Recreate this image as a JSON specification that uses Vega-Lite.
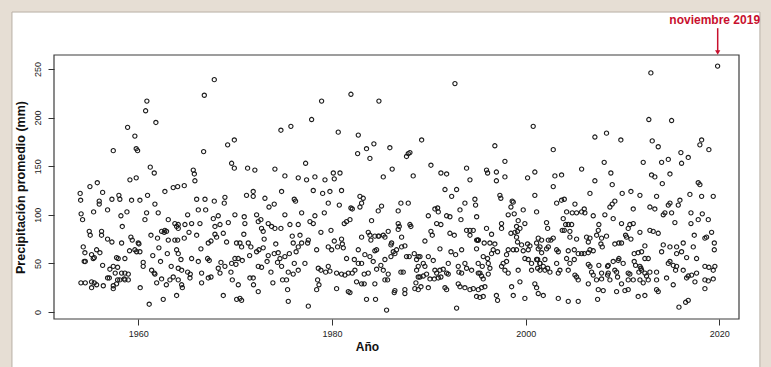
{
"$schema":"https://vega.github.io/schema/vega-lite/v6.json",
"width":685,"height":264,"autosize":"none",
"padding":{"left":54,"top":55,"right":32,"bottom":48},
"background":"#e6ded4",
"config":{"view":{"stroke":null},"axis":{"grid":false,"domain":false,"tickColor":"#333","tickSize":6,"tickWidth":1,"labelFont":"Liberation Sans","labelFontSize":9,"labelColor":"#222","titleFont":"Liberation Sans","titleFontWeight":"bold","titleColor":"#111"}},
"data":{"values":[
{"year":1954.0,"mm":122},{"year":1954.05,"mm":115},{"year":1954.1,"mm":101},{"year":1954.25,"mm":95},{"year":1954.32,"mm":67},{"year":1954.49,"mm":61},{"year":1954.53,"mm":52},{"year":1954.42,"mm":52},{"year":1954.08,"mm":30},{"year":1954.53,"mm":30},{"year":1954.94,"mm":83},{"year":1955.04,"mm":79},{"year":1955.01,"mm":129},{"year":1955.18,"mm":59},{"year":1955.18,"mm":31},{"year":1955.18,"mm":25},{"year":1955.46,"mm":56},{"year":1955.46,"mm":30},{"year":1955.35,"mm":55},{"year":1955.39,"mm":103},{"year":1955.77,"mm":133},{"year":1955.7,"mm":64},{"year":1955.7,"mm":28},{"year":1956.04,"mm":61},{"year":1955.97,"mm":114},{"year":1955.97,"mm":111},{"year":1956.32,"mm":123},{"year":1956.21,"mm":83},{"year":1956.21,"mm":79},{"year":1956.32,"mm":48},{"year":1956.39,"mm":27},{"year":1956.83,"mm":105},{"year":1956.83,"mm":75},{"year":1956.83,"mm":35},{"year":1957.01,"mm":35},{"year":1957.07,"mm":44},{"year":1957.42,"mm":166},{"year":1957.28,"mm":116},{"year":1957.28,"mm":72},{"year":1957.42,"mm":47},{"year":1957.42,"mm":24},{"year":1957.42,"mm":27},{"year":1957.62,"mm":40},
{"year":1960.89,"mm":217},{"year":1960.76,"mm":207},{"year":1961.82,"mm":195},{"year":1958.9,"mm":190},{"year":1959.65,"mm":181},{"year":1959.79,"mm":168},{"year":1959.93,"mm":166},{"year":1961.24,"mm":149},{"year":1961.65,"mm":143},{"year":1959.14,"mm":136},{"year":1959.79,"mm":138},{"year":1958.0,"mm":120},{"year":1958.1,"mm":116},{"year":1959.31,"mm":115},{"year":1960.17,"mm":115},{"year":1960.96,"mm":120},{"year":1962.75,"mm":124},{"year":1963.61,"mm":128},{"year":1961.72,"mm":111},{"year":1962.06,"mm":102},{"year":1960.86,"mm":102},{"year":1958.83,"mm":103},{"year":1958.21,"mm":99},{"year":1960.69,"mm":95},{"year":1963.1,"mm":95},{"year":1963.96,"mm":88},{"year":1963.78,"mm":91},{"year":1964.13,"mm":86},{"year":1958.35,"mm":88},{"year":1959.24,"mm":77},{"year":1959.38,"mm":74},{"year":1961.31,"mm":79},{"year":1962.41,"mm":83},{"year":1962.68,"mm":82},{"year":1962.75,"mm":84},{"year":1962.92,"mm":83},{"year":1961.99,"mm":76},{"year":1963.1,"mm":74},{"year":1963.78,"mm":74},{"year":1958.28,"mm":71},{"year":1960.0,"mm":71},{"year":1960.07,"mm":70},{"year":1962.13,"mm":66},{"year":1959.1,"mm":63},{"year":1959.65,"mm":64},{"year":1959.83,"mm":62},{"year":1960.17,"mm":62},{"year":1957.93,"mm":55},{"year":1958.62,"mm":55},{"year":1963.96,"mm":64},{"year":1964.13,"mm":60},{"year":1957.87,"mm":46},{"year":1958.28,"mm":40},{"year":1958.62,"mm":40},{"year":1958.97,"mm":39},{"year":1960.51,"mm":51},{"year":1960.51,"mm":47},{"year":1961.38,"mm":43},{"year":1961.65,"mm":40},{"year":1961.72,"mm":39},{"year":1962.41,"mm":34},{"year":1963.27,"mm":33},{"year":1963.61,"mm":36},{"year":1958.62,"mm":33},{"year":1960.2,"mm":25},{"year":1961.13,"mm":8},{"year":1962.58,"mm":13},{"year":1963.96,"mm":17},{"year":1957.87,"mm":33},{"year":1958.1,"mm":33},{"year":1958.55,"mm":34},{"year":1958.97,"mm":33},{"year":1957.76,"mm":29},{"year":1957.76,"mm":56},{"year":1961.5,"mm":58},{"year":1962.3,"mm":52},{"year":1963.4,"mm":47},{"year":1962.9,"mm":28},{"year":1961.9,"mm":30},{"year":1963.0,"mm":60},
{"year":1967.85,"mm":239},{"year":1966.82,"mm":223},{"year":1966.75,"mm":165},{"year":1969.92,"mm":177},{"year":1969.23,"mm":172},{"year":1969.64,"mm":153},{"year":1969.92,"mm":148},{"year":1965.68,"mm":146},{"year":1965.79,"mm":142},{"year":1965.85,"mm":135},{"year":1964.75,"mm":130},{"year":1964.07,"mm":129},{"year":1966.03,"mm":116},{"year":1966.89,"mm":116},{"year":1967.85,"mm":114},{"year":1968.95,"mm":118},{"year":1968.88,"mm":112},{"year":1969.98,"mm":100},{"year":1965.1,"mm":100},{"year":1966.2,"mm":105},{"year":1966.96,"mm":105},{"year":1964.13,"mm":90},{"year":1964.82,"mm":90},{"year":1965.51,"mm":91},{"year":1966.37,"mm":91},{"year":1967.75,"mm":96},{"year":1968.26,"mm":99},{"year":1967.92,"mm":88},{"year":1968.44,"mm":90},{"year":1969.3,"mm":92},{"year":1965.24,"mm":82},{"year":1966.03,"mm":79},{"year":1964.07,"mm":74},{"year":1964.75,"mm":76},{"year":1967.92,"mm":80},{"year":1968.78,"mm":81},{"year":1966.47,"mm":65},{"year":1967.23,"mm":71},{"year":1967.51,"mm":73},{"year":1969.12,"mm":72},{"year":1968.09,"mm":77},{"year":1965.51,"mm":55},{"year":1966.2,"mm":52},{"year":1964.41,"mm":54},{"year":1967.16,"mm":55},{"year":1967.33,"mm":53},{"year":1968.54,"mm":51},{"year":1968.95,"mm":47},{"year":1969.64,"mm":50},{"year":1969.98,"mm":55},{"year":1970.09,"mm":49},{"year":1964.13,"mm":45},{"year":1964.48,"mm":43},{"year":1965.1,"mm":41},{"year":1965.37,"mm":39},{"year":1966.54,"mm":40},{"year":1967.23,"mm":35},{"year":1967.51,"mm":36},{"year":1968.26,"mm":45},{"year":1968.44,"mm":40},{"year":1969.57,"mm":41},{"year":1969.71,"mm":33},{"year":1964.13,"mm":33},{"year":1964.48,"mm":28},{"year":1964.55,"mm":25},{"year":1965.34,"mm":35},{"year":1966.54,"mm":30},{"year":1968.78,"mm":17},{"year":1970.16,"mm":13},{"year":1970.33,"mm":28},
{"year":1974.73,"mm":187},{"year":1975.76,"mm":191},{"year":1971.29,"mm":148},{"year":1972.04,"mm":146},{"year":1974.11,"mm":147},{"year":1975.14,"mm":140},{"year":1976.52,"mm":138},{"year":1971.18,"mm":120},{"year":1971.87,"mm":124},{"year":1971.87,"mm":119},{"year":1973.08,"mm":117},{"year":1974.04,"mm":111},{"year":1974.8,"mm":124},{"year":1976.11,"mm":116},{"year":1976.24,"mm":114},{"year":1970.94,"mm":98},{"year":1972.22,"mm":100},{"year":1973.42,"mm":91},{"year":1973.77,"mm":88},{"year":1975.14,"mm":100},{"year":1972.39,"mm":93},{"year":1972.66,"mm":95},{"year":1971.01,"mm":91},{"year":1972.73,"mm":86},{"year":1972.9,"mm":83},{"year":1974.11,"mm":86},{"year":1974.73,"mm":86},{"year":1975.66,"mm":90},{"year":1976.52,"mm":90},{"year":1970.15,"mm":71},{"year":1970.5,"mm":71},{"year":1970.67,"mm":67},{"year":1971.36,"mm":71},{"year":1971.63,"mm":67},{"year":1972.22,"mm":62},{"year":1972.46,"mm":64},{"year":1973.42,"mm":58},{"year":1974.04,"mm":60},{"year":1974.45,"mm":61},{"year":1974.38,"mm":51},{"year":1974.63,"mm":55},{"year":1975.14,"mm":57},{"year":1976.0,"mm":71},{"year":1976.52,"mm":67},{"year":1970.32,"mm":55},{"year":1970.74,"mm":53},{"year":1972.39,"mm":47},{"year":1974.8,"mm":47},{"year":1976.11,"mm":50},{"year":1975.49,"mm":41},{"year":1976.0,"mm":39},{"year":1976.52,"mm":43},{"year":1971.53,"mm":35},{"year":1971.87,"mm":35},{"year":1972.73,"mm":46},{"year":1973.7,"mm":41},{"year":1975.31,"mm":33},{"year":1970.5,"mm":14},{"year":1970.67,"mm":12},{"year":1972.39,"mm":21},{"year":1975.42,"mm":23},{"year":1975.49,"mm":11},{"year":1974.9,"mm":33},{"year":1970.9,"mm":80},{"year":1971.5,"mm":58},{"year":1973.0,"mm":75},{"year":1973.3,"mm":52},{"year":1973.9,"mm":30},{"year":1975.9,"mm":78},{"year":1976.3,"mm":62},{"year":1971.9,"mm":28},{"year":1972.9,"mm":66},{"year":1974.2,"mm":70},{"year":1975.6,"mm":60},{"year":1973.5,"mm":108},
{"year":1981.96,"mm":224},{"year":1978.93,"mm":217},{"year":1977.9,"mm":198},{"year":1980.65,"mm":185},{"year":1982.72,"mm":182},{"year":1982.65,"mm":163},{"year":1977.28,"mm":153},{"year":1977.38,"mm":136},{"year":1978.24,"mm":139},{"year":1979.28,"mm":136},{"year":1980.14,"mm":143},{"year":1980.24,"mm":137},{"year":1980.83,"mm":143},{"year":1978.07,"mm":125},{"year":1979.04,"mm":122},{"year":1979.79,"mm":124},{"year":1980.99,"mm":125},{"year":1979.62,"mm":112},{"year":1980.76,"mm":110},{"year":1981.96,"mm":107},{"year":1982.1,"mm":106},{"year":1976.87,"mm":102},{"year":1978.24,"mm":99},{"year":1979.21,"mm":102},{"year":1977.73,"mm":93},{"year":1978.07,"mm":91},{"year":1981.27,"mm":91},{"year":1981.51,"mm":93},{"year":1981.86,"mm":95},{"year":1978.86,"mm":82},{"year":1979.9,"mm":84},{"year":1976.7,"mm":79},{"year":1976.87,"mm":71},{"year":1977.56,"mm":74},{"year":1977.49,"mm":71},{"year":1978.42,"mm":64},{"year":1980.24,"mm":73},{"year":1980.99,"mm":75},{"year":1979.62,"mm":67},{"year":1979.97,"mm":64},{"year":1980.58,"mm":67},{"year":1981.07,"mm":70},{"year":1981.17,"mm":66},{"year":1977.21,"mm":50},{"year":1978.59,"mm":45},{"year":1978.86,"mm":43},{"year":1979.35,"mm":41},{"year":1979.62,"mm":47},{"year":1979.79,"mm":42},{"year":1980.48,"mm":40},{"year":1980.99,"mm":39},{"year":1981.51,"mm":55},{"year":1982.31,"mm":54},{"year":1981.34,"mm":38},{"year":1981.69,"mm":40},{"year":1982.1,"mm":40},{"year":1978.52,"mm":33},{"year":1978.66,"mm":28},{"year":1978.42,"mm":23},{"year":1980.48,"mm":24},{"year":1981.69,"mm":21},{"year":1981.86,"mm":20},{"year":1977.56,"mm":6},{"year":1982.72,"mm":64},{"year":1982.72,"mm":50},{"year":1982.37,"mm":43},{"year":1982.54,"mm":31},
{"year":1984.85,"mm":217},{"year":1983.57,"mm":168},{"year":1984.33,"mm":173},{"year":1985.98,"mm":169},{"year":1983.92,"mm":158},{"year":1987.88,"mm":163},{"year":1987.7,"mm":160},{"year":1988.05,"mm":164},{"year":1985.3,"mm":139},{"year":1986.22,"mm":147},{"year":1988.39,"mm":140},{"year":1982.89,"mm":119},{"year":1983.23,"mm":117},{"year":1983.06,"mm":112},{"year":1982.89,"mm":108},{"year":1985.12,"mm":109},{"year":1984.78,"mm":104},{"year":1987.12,"mm":112},{"year":1987.88,"mm":112},{"year":1986.84,"mm":104},{"year":1984.09,"mm":94},{"year":1986.84,"mm":91},{"year":1986.95,"mm":88},{"year":1988.05,"mm":90},{"year":1988.15,"mm":88},{"year":1983.06,"mm":77},{"year":1983.75,"mm":82},{"year":1983.92,"mm":79},{"year":1984.02,"mm":74},{"year":1984.43,"mm":78},{"year":1984.78,"mm":78},{"year":1984.85,"mm":78},{"year":1985.3,"mm":79},{"year":1985.47,"mm":77},{"year":1985.81,"mm":83},{"year":1986.84,"mm":85},{"year":1987.19,"mm":77},{"year":1986.16,"mm":71},{"year":1986.09,"mm":69},{"year":1986.33,"mm":62},{"year":1986.5,"mm":60},{"year":1986.67,"mm":64},{"year":1987.19,"mm":67},{"year":1987.53,"mm":68},{"year":1987.7,"mm":57},{"year":1987.98,"mm":57},{"year":1988.5,"mm":60},{"year":1983.4,"mm":59},{"year":1983.92,"mm":57},{"year":1984.43,"mm":63},{"year":1984.61,"mm":64},{"year":1984.26,"mm":52},{"year":1985.47,"mm":54},{"year":1986.09,"mm":57},{"year":1983.06,"mm":50},{"year":1988.74,"mm":54},{"year":1988.91,"mm":57},{"year":1985.05,"mm":48},{"year":1985.3,"mm":43},{"year":1984.61,"mm":44},{"year":1983.33,"mm":39},{"year":1983.75,"mm":40},{"year":1985.81,"mm":39},{"year":1987.12,"mm":41},{"year":1987.36,"mm":41},{"year":1988.74,"mm":43},{"year":1988.91,"mm":36},{"year":1988.67,"mm":30},{"year":1983.06,"mm":29},{"year":1983.33,"mm":29},{"year":1984.43,"mm":29},{"year":1985.47,"mm":33},{"year":1985.74,"mm":33},{"year":1986.5,"mm":22},{"year":1986.43,"mm":20},{"year":1987.53,"mm":23},{"year":1987.53,"mm":19},{"year":1983.57,"mm":13},{"year":1984.5,"mm":13},{"year":1985.64,"mm":2},{"year":1988.56,"mm":24},{"year":1988.91,"mm":23},
{"year":1992.7,"mm":235},{"year":1989.26,"mm":177},{"year":1990.22,"mm":151},{"year":1991.25,"mm":143},{"year":1991.84,"mm":142},{"year":1993.9,"mm":148},{"year":1994.25,"mm":136},{"year":1991.67,"mm":126},{"year":1992.36,"mm":119},{"year":1992.87,"mm":126},{"year":1993.73,"mm":112},{"year":1994.76,"mm":116},{"year":1994.83,"mm":110},{"year":1990.63,"mm":106},{"year":1990.91,"mm":107},{"year":1990.98,"mm":103},{"year":1991.84,"mm":99},{"year":1992.18,"mm":98},{"year":1989.95,"mm":99},{"year":1993.22,"mm":105},{"year":1993.32,"mm":95},{"year":1994.94,"mm":98},{"year":1990.81,"mm":91},{"year":1991.25,"mm":90},{"year":1990.22,"mm":83},{"year":1990.36,"mm":79},{"year":1992.18,"mm":81},{"year":1992.63,"mm":79},{"year":1993.9,"mm":84},{"year":1994.25,"mm":84},{"year":1994.59,"mm":84},{"year":1994.25,"mm":79},{"year":1994.94,"mm":74},{"year":1995.11,"mm":74},{"year":1989.6,"mm":73},{"year":1991.15,"mm":65},{"year":1992.29,"mm":62},{"year":1992.77,"mm":59},{"year":1993.39,"mm":64},{"year":1989.09,"mm":57},{"year":1989.95,"mm":57},{"year":1990.46,"mm":53},{"year":1989.43,"mm":50},{"year":1989.6,"mm":47},{"year":1992.01,"mm":50},{"year":1993.04,"mm":47},{"year":1993.73,"mm":50},{"year":1993.9,"mm":45},{"year":1991.15,"mm":43},{"year":1991.49,"mm":44},{"year":1990.63,"mm":43},{"year":1990.81,"mm":40},{"year":1994.42,"mm":43},{"year":1995.11,"mm":40},{"year":1989.09,"mm":36},{"year":1989.43,"mm":37},{"year":1989.77,"mm":39},{"year":1990.12,"mm":34},{"year":1990.57,"mm":34},{"year":1990.98,"mm":35},{"year":1991.25,"mm":36},{"year":1991.84,"mm":40},{"year":1992.01,"mm":39},{"year":1993.11,"mm":41},{"year":1993.39,"mm":40},{"year":1989.19,"mm":26},{"year":1989.95,"mm":25},{"year":1991.67,"mm":25},{"year":1991.84,"mm":23},{"year":1993.04,"mm":29},{"year":1993.22,"mm":26},{"year":1993.73,"mm":25},{"year":1994.25,"mm":23},{"year":1994.59,"mm":24},{"year":1995.11,"mm":23},{"year":1992.87,"mm":4},{"year":1988.91,"mm":47},
{"year":2000.78,"mm":191},{"year":1996.82,"mm":171},{"year":1997.86,"mm":155},{"year":1995.96,"mm":146},{"year":1996.07,"mm":143},{"year":1996.98,"mm":144},{"year":1996.98,"mm":135},{"year":1997.86,"mm":139},{"year":2000.2,"mm":138},{"year":2000.95,"mm":144},{"year":1997.34,"mm":120},{"year":1997.44,"mm":117},{"year":1998.48,"mm":108},{"year":1998.72,"mm":113},{"year":1998.61,"mm":114},{"year":2000.95,"mm":120},{"year":1998.2,"mm":100},{"year":1998.82,"mm":101},{"year":1999.23,"mm":94},{"year":1999.06,"mm":88},{"year":1999.41,"mm":86},{"year":1999.16,"mm":83},{"year":1999.75,"mm":105},{"year":1999.92,"mm":91},{"year":2001.13,"mm":103},{"year":1997.51,"mm":91},{"year":1997.51,"mm":86},{"year":1995.96,"mm":86},{"year":1996.48,"mm":80},{"year":1998.48,"mm":81},{"year":1998.89,"mm":82},{"year":1999.06,"mm":77},{"year":1999.16,"mm":72},{"year":1995.1,"mm":74},{"year":1995.04,"mm":74},{"year":1995.72,"mm":71},{"year":1996.31,"mm":71},{"year":1996.82,"mm":70},{"year":1994.93,"mm":65},{"year":1996.65,"mm":64},{"year":1996.48,"mm":60},{"year":1997.1,"mm":62},{"year":1998.2,"mm":64},{"year":1998.72,"mm":64},{"year":1999.06,"mm":64},{"year":1999.58,"mm":69},{"year":2000.2,"mm":70},{"year":2000.44,"mm":68},{"year":2000.27,"mm":64},{"year":1999.75,"mm":63},{"year":2001.13,"mm":71},{"year":2001.3,"mm":65},{"year":1995.62,"mm":57},{"year":1996.07,"mm":55},{"year":1998.03,"mm":59},{"year":1999.92,"mm":55},{"year":2000.27,"mm":54},{"year":1995.1,"mm":50},{"year":1995.52,"mm":47},{"year":1996.14,"mm":50},{"year":1996.31,"mm":45},{"year":1997.68,"mm":50},{"year":1997.51,"mm":47},{"year":1997.86,"mm":43},{"year":1998.03,"mm":52},{"year":2000.61,"mm":50},{"year":2001.13,"mm":54},{"year":2001.47,"mm":50},{"year":1995.28,"mm":40},{"year":1995.45,"mm":37},{"year":1995.62,"mm":34},{"year":1996.14,"mm":39},{"year":1998.2,"mm":40},{"year":1999.23,"mm":43},{"year":1999.41,"mm":31},{"year":2000.95,"mm":29},{"year":2001.13,"mm":25},{"year":1995.45,"mm":25},{"year":1995.79,"mm":26},{"year":1994.93,"mm":16},{"year":1995.28,"mm":15},{"year":1995.62,"mm":16},{"year":1996.98,"mm":17},{"year":1997.1,"mm":12},{"year":1998.55,"mm":26},{"year":1998.72,"mm":17},{"year":1999.92,"mm":14},{"year":2000.61,"mm":43},
{"year":2007.15,"mm":180},{"year":2002.85,"mm":167},{"year":2005.78,"mm":147},{"year":2007.15,"mm":135},{"year":2006.64,"mm":122},{"year":2003.02,"mm":140},{"year":2003.71,"mm":141},{"year":2002.85,"mm":129},{"year":2003.2,"mm":112},{"year":2003.71,"mm":115},{"year":2003.99,"mm":116},{"year":2005.09,"mm":111},{"year":2003.88,"mm":96},{"year":2004.13,"mm":90},{"year":2004.4,"mm":90},{"year":2004.75,"mm":90},{"year":2004.23,"mm":103},{"year":2004.81,"mm":102},{"year":2005.26,"mm":102},{"year":2005.78,"mm":103},{"year":2006.05,"mm":106},{"year":2006.12,"mm":102},{"year":2006.98,"mm":99},{"year":2002.16,"mm":92},{"year":2002.27,"mm":86},{"year":2002.85,"mm":76},{"year":2003.78,"mm":84},{"year":2003.99,"mm":84},{"year":2004.57,"mm":83},{"year":2004.57,"mm":77},{"year":2001.3,"mm":76},{"year":2001.65,"mm":74},{"year":2002.34,"mm":74},{"year":2002.61,"mm":74},{"year":2005.26,"mm":75},{"year":2006.29,"mm":77},{"year":2006.64,"mm":76},{"year":2006.47,"mm":72},{"year":2007.33,"mm":79},{"year":2007.5,"mm":84},{"year":2001.48,"mm":67},{"year":2001.65,"mm":61},{"year":2002.34,"mm":67},{"year":2002.16,"mm":65},{"year":2003.2,"mm":64},{"year":2003.37,"mm":62},{"year":2004.4,"mm":63},{"year":2005.02,"mm":64},{"year":2005.43,"mm":60},{"year":2005.78,"mm":60},{"year":2006.05,"mm":60},{"year":2006.47,"mm":61},{"year":2006.64,"mm":64},{"year":2006.98,"mm":63},{"year":2001.24,"mm":54},{"year":2001.48,"mm":50},{"year":2001.99,"mm":54},{"year":2003.2,"mm":50},{"year":2004.23,"mm":55},{"year":2004.57,"mm":50},{"year":2005.02,"mm":54},{"year":2001.24,"mm":45},{"year":2001.48,"mm":43},{"year":2001.82,"mm":47},{"year":2001.99,"mm":43},{"year":2002.27,"mm":45},{"year":2002.51,"mm":41},{"year":2003.37,"mm":40},{"year":2003.54,"mm":43},{"year":2004.4,"mm":43},{"year":2005.09,"mm":38},{"year":2005.26,"mm":36},{"year":2005.43,"mm":33},{"year":2006.47,"mm":49},{"year":2006.64,"mm":47},{"year":2006.81,"mm":41},{"year":2006.98,"mm":38},{"year":2006.47,"mm":29},{"year":2007.5,"mm":23},{"year":2001.3,"mm":19},{"year":2001.82,"mm":17},{"year":2003.37,"mm":14},{"year":2004.4,"mm":11},{"year":2005.43,"mm":11},
{"year":2012.93,"mm":246},{"year":2012.72,"mm":198},{"year":2008.35,"mm":184},{"year":2009.83,"mm":177},{"year":2013.07,"mm":176},{"year":2013.69,"mm":170},{"year":2012.14,"mm":154},{"year":2008.11,"mm":154},{"year":2008.8,"mm":143},{"year":2013.0,"mm":141},{"year":2013.34,"mm":139},{"year":2008.94,"mm":131},{"year":2009.97,"mm":122},{"year":2010.87,"mm":124},{"year":2011.8,"mm":120},{"year":2013.52,"mm":119},{"year":2008.7,"mm":108},{"year":2008.94,"mm":111},{"year":2009.21,"mm":114},{"year":2012.83,"mm":108},{"year":2008.18,"mm":100},{"year":2011.11,"mm":106},{"year":2013.34,"mm":106},{"year":2009.04,"mm":96},{"year":2009.9,"mm":91},{"year":2010.76,"mm":90},{"year":2011.11,"mm":91},{"year":2007.56,"mm":90},{"year":2010.59,"mm":86},{"year":2007.84,"mm":76},{"year":2008.35,"mm":78},{"year":2010.32,"mm":79},{"year":2010.42,"mm":77},{"year":2011.8,"mm":82},{"year":2012.83,"mm":84},{"year":2013.17,"mm":83},{"year":2013.69,"mm":81},{"year":2007.77,"mm":70},{"year":2007.91,"mm":67},{"year":2009.21,"mm":70},{"year":2009.63,"mm":71},{"year":2009.9,"mm":71},{"year":2010.87,"mm":75},{"year":2012.31,"mm":68},{"year":2011.21,"mm":60},{"year":2011.62,"mm":61},{"year":2011.97,"mm":62},{"year":2012.31,"mm":55},{"year":2012.66,"mm":55},{"year":2009.04,"mm":52},{"year":2009.56,"mm":53},{"year":2009.63,"mm":55},{"year":2010.07,"mm":50},{"year":2011.21,"mm":52},{"year":2011.35,"mm":48},{"year":2011.8,"mm":47},{"year":2011.9,"mm":45},{"year":2008.53,"mm":48},{"year":2008.46,"mm":47},{"year":2007.56,"mm":48},{"year":2007.84,"mm":40},{"year":2008.53,"mm":40},{"year":2009.21,"mm":43},{"year":2009.39,"mm":41},{"year":2010.59,"mm":40},{"year":2010.76,"mm":39},{"year":2011.69,"mm":41},{"year":2011.97,"mm":43},{"year":2012.31,"mm":40},{"year":2012.83,"mm":41},{"year":2013.52,"mm":41},{"year":2007.32,"mm":33},{"year":2007.84,"mm":34},{"year":2008.46,"mm":38},{"year":2008.7,"mm":33},{"year":2009.49,"mm":36},{"year":2009.9,"mm":29},{"year":2010.59,"mm":33},{"year":2011.11,"mm":33},{"year":2011.8,"mm":33},{"year":2012.14,"mm":30},{"year":2012.48,"mm":37},{"year":2012.66,"mm":33},{"year":2013.52,"mm":33},{"year":2008.01,"mm":22},{"year":2009.39,"mm":21},{"year":2010.25,"mm":22},{"year":2010.59,"mm":23},{"year":2011.62,"mm":16},{"year":2012.31,"mm":17},{"year":2013.52,"mm":23},{"year":2013.69,"mm":21},{"year":2007.43,"mm":13},
{"year":2019.82,"mm":253},{"year":2015.07,"mm":197},{"year":2018.17,"mm":177},{"year":2017.99,"mm":172},{"year":2018.92,"mm":167},{"year":2016.03,"mm":164},{"year":2016.79,"mm":159},{"year":2016.1,"mm":153},{"year":2014.04,"mm":154},{"year":2014.73,"mm":157},{"year":2014.9,"mm":142},{"year":2014.11,"mm":132},{"year":2017.82,"mm":133},{"year":2017.99,"mm":131},{"year":2016.96,"mm":121},{"year":2018.17,"mm":119},{"year":2019.37,"mm":119},{"year":2014.73,"mm":110},{"year":2014.9,"mm":112},{"year":2015.76,"mm":110},{"year":2015.93,"mm":115},{"year":2014.21,"mm":100},{"year":2014.38,"mm":102},{"year":2015.07,"mm":102},{"year":2015.41,"mm":92},{"year":2017.07,"mm":102},{"year":2017.07,"mm":91},{"year":2018.24,"mm":101},{"year":2017.82,"mm":95},{"year":2018.86,"mm":95},{"year":2017.41,"mm":79},{"year":2018.51,"mm":76},{"year":2018.68,"mm":77},{"year":2019.2,"mm":82},{"year":2019.48,"mm":71},{"year":2019.48,"mm":64},{"year":2014.21,"mm":69},{"year":2014.9,"mm":67},{"year":2015.59,"mm":67},{"year":2016.27,"mm":71},{"year":2014.04,"mm":62},{"year":2015.59,"mm":60},{"year":2016.1,"mm":62},{"year":2016.62,"mm":56},{"year":2017.31,"mm":67},{"year":2017.65,"mm":55},{"year":2014.9,"mm":52},{"year":2014.73,"mm":50},{"year":2015.24,"mm":48},{"year":2015.59,"mm":47},{"year":2015.48,"mm":43},{"year":2016.27,"mm":43},{"year":2018.51,"mm":47},{"year":2018.92,"mm":46},{"year":2019.37,"mm":43},{"year":2019.54,"mm":47},{"year":2016.79,"mm":37},{"year":2017.14,"mm":38},{"year":2016.62,"mm":35},{"year":2017.65,"mm":40},{"year":2017.48,"mm":31},{"year":2018.51,"mm":33},{"year":2018.86,"mm":32},{"year":2019.37,"mm":34},{"year":2014.55,"mm":35},{"year":2015.24,"mm":28},{"year":2018.51,"mm":24},{"year":2015.83,"mm":5},{"year":2016.52,"mm":10},{"year":2016.79,"mm":12}
]},
"layer":[
{"data":{"values":[{}]},"mark":{"type":"rect","fill":"#ffffff","stroke":"#b8b0a6","strokeWidth":1},
 "encoding":{"x":{"datum":1946.96,"type":"quantitative","scale":{"domain":[1951.3,2022.03],"nice":false,"zero":false}},"x2":{"datum":2024.19},"y":{"datum":-60,"type":"quantitative","scale":{"domain":[-7.2,264.4],"nice":false,"zero":false}},"y2":{"datum":308.6}}},
{"data":{"values":[{}]},"mark":{"type":"rect","filled":false,"stroke":"#3c3c3c","strokeWidth":1.2},
 "encoding":{"x":{"datum":1951.3,"type":"quantitative"},"x2":{"datum":2022.03},"y":{"datum":-7.2,"type":"quantitative"},"y2":{"datum":264.4}}},
{"mark":{"type":"point","shape":"circle","filled":false,"size":18,"strokeWidth":1.1,"color":"#1c1c1c","opacity":1},
 "encoding":{
  "x":{"field":"year","type":"quantitative","scale":{"domain":[1951.3,2022.03],"nice":false,"zero":false},
   "axis":{"zindex":2,"values":[1960,1980,2000,2020],"format":"d","title":"Año","titleFontSize":12,"labelPadding":4,"titlePadding":3,"titleX":313,"labelFlush":false}},
  "y":{"field":"mm","type":"quantitative","scale":{"domain":[-7.2,264.4],"nice":false,"zero":false},
   "axis":{"zindex":2,"values":[0,50,100,150,200,250],"title":"Precipitación promedio (mm)","titleFontSize":12.5,"labelAngle":-90,"labelAlign":"center","labelBaseline":"bottom","labelPadding":6,"titlePadding":6}}}},
{"data":{"values":[{}]},"mark":{"type":"rule","color":"#c8102e","strokeWidth":1.5},
 "encoding":{"x":{"datum":2019.83,"type":"quantitative"},"y":{"datum":292,"type":"quantitative"},"y2":{"datum":268}}},
{"data":{"values":[{}]},"mark":{"type":"point","shape":"triangle-down","filled":true,"color":"#c8102e","size":28,"opacity":1},
 "encoding":{"x":{"datum":2019.83,"type":"quantitative"},"y":{"datum":267,"type":"quantitative"}}},
{"data":{"values":[{}]},"mark":{"type":"text","text":"noviembre 2019","color":"#c8102e","fontWeight":"bold","fontSize":12,"font":"Liberation Sans","baseline":"middle","align":"center","dx":-3},
 "encoding":{"x":{"datum":2019.83,"type":"quantitative"},"y":{"datum":300,"type":"quantitative"}}}
]
}
